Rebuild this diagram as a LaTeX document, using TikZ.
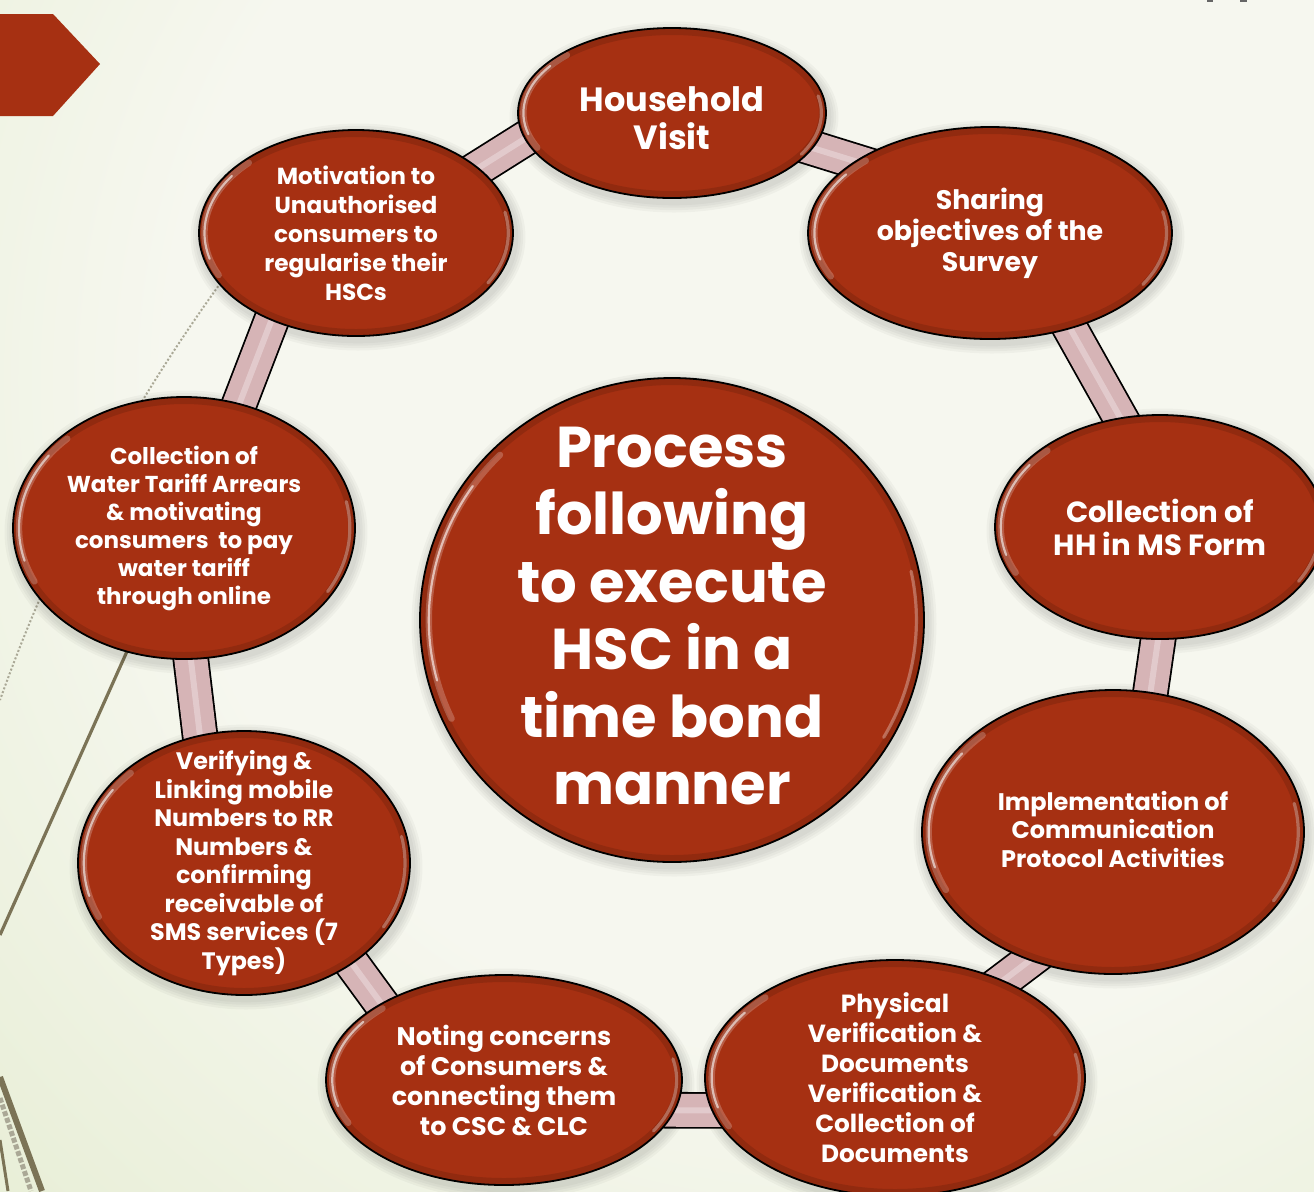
\documentclass[tikz,border=0pt]{standalone}
\usepackage{fontspec}
\setmainfont{Poppins}
\usetikzlibrary{calc,shapes.geometric}
\definecolor{bgin}{RGB}{246,247,239}
\definecolor{bgout}{RGB}{223,233,199}
\definecolor{brick}{RGB}{166,48,18}
\definecolor{linkpink}{RGB}{214,180,182}
\definecolor{wisp}{RGB}{123,115,86}
\definecolor{wispfaint}{RGB}{170,168,150}
\pgfdeclareradialshading{bgglow}{\pgfpoint{0bp}{0bp}}{color(0bp)=(bgin); color(12bp)=(bgin); color(27bp)=(bgout); color(50bp)=(bgout)}
\pgfdeclarelayer{back}
\pgfdeclarelayer{links}
\pgfsetlayers{back,links,main}
\begin{document}
\begin{tikzpicture}[x=0.5pt,y=-0.5pt,
  bubble/.style 2 args={shape=ellipse, draw=black, line width=0.9pt, fill=brick,
    inner sep=0pt, minimum width=#1pt, minimum height=#2pt,
    path picture={
      \draw[black, opacity=0.12, line width=7pt]
        let \p1=(path picture bounding box.north east), \p2=(path picture bounding box.center),
            \n1={\x1-\x2}, \n2={\y1-\y2} in
        (\p2) ellipse [x radius=\n1, y radius=\n2];
      \draw[white, opacity=0.22, line width=3.2pt, line cap=round]
        let \p1=(path picture bounding box.north east), \p2=(path picture bounding box.center),
            \n1={0.965*(\x1-\x2)}, \n2={0.965*(\y1-\y2)} in
        ($(\p2)+(135:\n1 and \n2)$) arc[start angle=135, end angle=205, x radius=\n1, y radius=\n2];
      \draw[white, opacity=0.6, line width=1.1pt, line cap=round]
        let \p1=(path picture bounding box.north east), \p2=(path picture bounding box.center),
            \n1={0.965*(\x1-\x2)}, \n2={0.965*(\y1-\y2)} in
        ($(\p2)+(145:\n1 and \n2)$) arc[start angle=145, end angle=195, x radius=\n1, y radius=\n2];
      \draw[white, opacity=0.3, line width=1.6pt, line cap=round]
        let \p1=(path picture bounding box.north east), \p2=(path picture bounding box.center),
            \n1={0.97*(\x1-\x2)}, \n2={0.97*(\y1-\y2)} in
        ($(\p2)+(-30:\n1 and \n2)$) arc[start angle=-30, end angle=12, x radius=\n1, y radius=\n2];
    }},
  txt/.style 2 args={text=white, align=center, inner sep=0pt,
    font=\fontsize{#1}{#2}\selectfont\bfseries},
  link/.style={draw=black, line width=0.9pt, double=linkpink, double distance=16.5pt,
    shorten <=-14pt, shorten >=-14pt},
  linkshine/.style={draw=white, opacity=0.3, line width=3pt,
    shorten <=-14pt, shorten >=-14pt}
]
\useasboundingbox (0,0) rectangle (1314,1191);

% backdrop and wisp lines
\begin{pgfonlayer}{back}
  \begin{scope}
    \clip (0,0) rectangle (1314,1191);
    \fill[bgout] (0,0) rectangle (1314,1191);
    \shade[shading=bgglow] (840,380) circle (1400);
    \draw[wispfaint, line width=1pt, densely dotted] (230,270) .. controls (120,420) and (50,560) .. (0,700);
    \draw[wisp, line width=1.6pt] (150,600) -- (0,935);
    \draw[wisp, line width=3pt] (0,1077) -- (42,1191);
    \draw[wispfaint, line width=2.5pt, densely dotted] (0,1098) -- (31,1191);
    \draw[wisp, line width=1.5pt] (0,1140) -- (8,1191);
    \fill[brick] (0,14) -- (53,14) -- (100,64) -- (53,116) -- (0,116) -- cycle;
    \fill[gray!80!black] (1207,0) rectangle (1213,2);
    \fill[gray!80!black] (1240,0) rectangle (1247,2);
  \end{scope}
\end{pgfonlayer}

% bubbles
\node[bubble={252}{242}, label={[txt={28.8}{33.75}, yshift=2pt]center:{Process\\following\\to execute\\HSC in a\\time bond\\manner}}] (ce) at (672,620) {};
\node[bubble={154}{85}, label={[txt={16.8}{19}, yshift=-2.5pt]center:{Household\\Visit}}] (hv) at (672,113) {};
\node[bubble={182}{106}, label={[txt={13.4}{15.5}]center:{Sharing\\objectives of the\\Survey}}] (so) at (990,233) {};
\node[bubble={165}{112}, label={[txt={14.6}{16.5}]center:{Collection of\\HH in MS Form}}] (hh) at (1160,527) {};
\node[bubble={191}{142}, label={[txt={12}{14.25}, yshift=1.5pt]center:{Implementation of\\Communication\\Protocol Activities}}] (ip) at (1113,832) {};
\node[bubble={190}{118}, label={[txt={12.4}{15}]center:{Physical\\Verification \&\\Documents\\Verification \&\\Collection of\\Documents}}] (pv) at (895,1078) {};
\node[bubble={178}{105}, label={[txt={12.7}{15}]center:{Noting concerns\\of Consumers \&\\connecting them\\to CSC \& CLC}}] (nc) at (504,1080) {};
\node[bubble={166}{132}, label={[txt={11.9}{14.25}]center:{Verifying \&\\Linking mobile\\Numbers to RR\\Numbers \&\\confirming\\receivable of\\SMS services (7\\Types)}}] (vl) at (244,863) {};
\node[bubble={171}{131}, label={[txt={11.5}{14}]center:{Collection of\\Water Tariff Arrears\\\& motivating\\consumers\ \ to pay\\water tariff\\through online}}] (cw) at (184,528) {};
\node[bubble={157}{103}, label={[txt={11.6}{14.5}]center:{Motivation to\\Unauthorised\\consumers to\\regularise their\\HSCs}}] (mo) at (356,233) {};

% soft shadows under the bubbles
\begin{pgfonlayer}{back}
  \foreach \nd in {ce,hv,so,hh,ip,pv,nc,vl,cw,mo}{
    \foreach \g in {1,...,4}{
      \fill[black, opacity=0.03]
        let \p1=(\nd.east), \p2=(\nd.north), \p3=(\nd.center) in
        ([xshift=1pt, yshift=-2pt]\p3) ellipse [x radius={\x1-\x3+\g*1.2pt}, y radius={\y2-\y3+\g*1.2pt}];
    }
  }
\end{pgfonlayer}

% ring of links
\begin{pgfonlayer}{links}
  \foreach \a/\aa/\b/\bb in {mo/28/hv/190, hv/346/so/152, so/310/hh/110, hh/269/ip/75,
      ip/237/pv/42, pv/190/nc/350, nc/148/vl/317, vl/109/cw/273, cw/66/mo/226}{
    \draw[link] (\a.\aa) -- (\b.\bb);
    \draw[linkshine] (\a.\aa) -- (\b.\bb);
  }
\end{pgfonlayer}
\end{tikzpicture}
\end{document}
